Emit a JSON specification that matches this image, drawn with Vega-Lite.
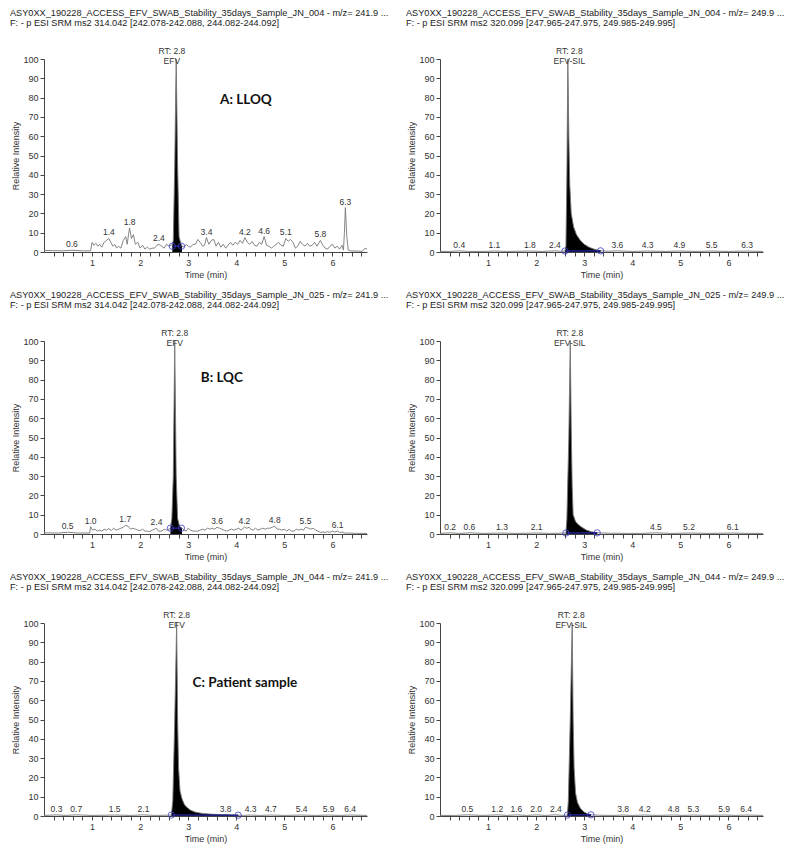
{
"$schema":"https://vega.github.io/schema/vega-lite/v6.json",
"background":"white",
"padding":{"left":9,"top":8,"right":2,"bottom":2},
"config":{
 "view":{"stroke":null},
 "axis":{"grid":false,"domainColor":"#444","tickColor":"#444","labelColor":"#333","titleColor":"#333","labelFont":"Liberation Sans","titleFont":"Liberation Sans","labelFontSize":9,"titleFontSize":9,"titleFontWeight":"normal","domainWidth":1,"tickWidth":1},
 "title":{"font":"Liberation Sans","fontSize":9.2,"fontWeight":"normal","anchor":"start","color":"#222","lineHeight":10,"offset":19,"dx":-2}
},
"datasets":{
"trace":[
{"p":"A1","t":0,"y":0.8},{"p":"A1","t":0.2,"y":0.7},{"p":"A1","t":0.4,"y":0.6},{"p":"A1","t":0.58,"y":0.9},{"p":"A1","t":0.8,"y":0.6},{"p":"A1","t":0.97,"y":0.6},{"p":"A1","t":1.0,"y":5},{"p":"A1","t":1.04,"y":3.5},{"p":"A1","t":1.08,"y":4.5},{"p":"A1","t":1.12,"y":3},{"p":"A1","t":1.16,"y":4},{"p":"A1","t":1.2,"y":2.5},{"p":"A1","t":1.25,"y":5},{"p":"A1","t":1.3,"y":6},{"p":"A1","t":1.35,"y":7},{"p":"A1","t":1.39,"y":5},{"p":"A1","t":1.43,"y":3},{"p":"A1","t":1.47,"y":4},{"p":"A1","t":1.51,"y":2},{"p":"A1","t":1.55,"y":3},{"p":"A1","t":1.6,"y":2},{"p":"A1","t":1.65,"y":6},{"p":"A1","t":1.7,"y":8},{"p":"A1","t":1.73,"y":4},{"p":"A1","t":1.78,"y":12.5},{"p":"A1","t":1.82,"y":7},{"p":"A1","t":1.86,"y":9},{"p":"A1","t":1.9,"y":4},{"p":"A1","t":1.95,"y":5},{"p":"A1","t":2.0,"y":2},{"p":"A1","t":2.05,"y":3.5},{"p":"A1","t":2.1,"y":1.5},{"p":"A1","t":2.15,"y":2.5},{"p":"A1","t":2.2,"y":1.5},{"p":"A1","t":2.25,"y":2},{"p":"A1","t":2.3,"y":2},{"p":"A1","t":2.35,"y":3.5},{"p":"A1","t":2.39,"y":4},{"p":"A1","t":2.45,"y":3},{"p":"A1","t":2.5,"y":2},{"p":"A1","t":2.55,"y":4},{"p":"A1","t":2.6,"y":3},{"p":"A1","t":2.65,"y":3.5},{"p":"A1","t":2.67,"y":4},{"p":"A1","t":2.69,"y":6},{"p":"A1","t":2.72,"y":45},{"p":"A1","t":2.75,"y":100},{"p":"A1","t":2.78,"y":45},{"p":"A1","t":2.81,"y":8},{"p":"A1","t":2.84,"y":5},{"p":"A1","t":2.87,"y":3},{"p":"A1","t":2.92,"y":2.5},{"p":"A1","t":2.96,"y":4},{"p":"A1","t":3.0,"y":3},{"p":"A1","t":3.05,"y":2.5},{"p":"A1","t":3.1,"y":4},{"p":"A1","t":3.15,"y":4},{"p":"A1","t":3.2,"y":6.5},{"p":"A1","t":3.25,"y":5},{"p":"A1","t":3.3,"y":3},{"p":"A1","t":3.34,"y":3.5},{"p":"A1","t":3.38,"y":7.5},{"p":"A1","t":3.43,"y":4},{"p":"A1","t":3.48,"y":6},{"p":"A1","t":3.53,"y":6.5},{"p":"A1","t":3.58,"y":3},{"p":"A1","t":3.63,"y":5},{"p":"A1","t":3.68,"y":2.5},{"p":"A1","t":3.73,"y":4},{"p":"A1","t":3.78,"y":2},{"p":"A1","t":3.83,"y":3.5},{"p":"A1","t":3.88,"y":5},{"p":"A1","t":3.93,"y":3.5},{"p":"A1","t":3.98,"y":5},{"p":"A1","t":4.03,"y":4},{"p":"A1","t":4.08,"y":6},{"p":"A1","t":4.13,"y":4.5},{"p":"A1","t":4.18,"y":7.5},{"p":"A1","t":4.23,"y":5},{"p":"A1","t":4.28,"y":4},{"p":"A1","t":4.33,"y":5.5},{"p":"A1","t":4.38,"y":3.5},{"p":"A1","t":4.43,"y":3},{"p":"A1","t":4.48,"y":5},{"p":"A1","t":4.53,"y":4},{"p":"A1","t":4.58,"y":8},{"p":"A1","t":4.63,"y":3.5},{"p":"A1","t":4.68,"y":3},{"p":"A1","t":4.73,"y":2},{"p":"A1","t":4.78,"y":3},{"p":"A1","t":4.83,"y":4},{"p":"A1","t":4.88,"y":5},{"p":"A1","t":4.93,"y":3.5},{"p":"A1","t":4.98,"y":3},{"p":"A1","t":5.03,"y":7},{"p":"A1","t":5.08,"y":5.5},{"p":"A1","t":5.13,"y":6.5},{"p":"A1","t":5.18,"y":5},{"p":"A1","t":5.23,"y":2},{"p":"A1","t":5.28,"y":3},{"p":"A1","t":5.33,"y":5.5},{"p":"A1","t":5.38,"y":4},{"p":"A1","t":5.43,"y":3},{"p":"A1","t":5.48,"y":4.5},{"p":"A1","t":5.53,"y":3},{"p":"A1","t":5.58,"y":3.5},{"p":"A1","t":5.63,"y":5},{"p":"A1","t":5.68,"y":3},{"p":"A1","t":5.75,"y":6},{"p":"A1","t":5.8,"y":3.5},{"p":"A1","t":5.85,"y":2},{"p":"A1","t":5.9,"y":1.5},{"p":"A1","t":5.95,"y":3},{"p":"A1","t":6.0,"y":4},{"p":"A1","t":6.05,"y":2},{"p":"A1","t":6.1,"y":3},{"p":"A1","t":6.15,"y":1.5},{"p":"A1","t":6.2,"y":3.5},{"p":"A1","t":6.23,"y":1},{"p":"A1","t":6.25,"y":10},{"p":"A1","t":6.27,"y":23},{"p":"A1","t":6.3,"y":8},{"p":"A1","t":6.33,"y":1},{"p":"A1","t":6.4,"y":0.5},{"p":"A1","t":6.55,"y":0.5},{"p":"A1","t":6.62,"y":0.3},{"p":"A1","t":6.68,"y":2},{"p":"A1","t":6.72,"y":1.5},
{"p":"A2","t":0,"y":0.3},{"p":"A2","t":0.2,"y":0.3},{"p":"A2","t":0.4,"y":0.6},{"p":"A2","t":0.6,"y":0.3},{"p":"A2","t":0.9,"y":0.3},{"p":"A2","t":1.13,"y":0.5},{"p":"A2","t":1.4,"y":0.3},{"p":"A2","t":1.87,"y":0.5},{"p":"A2","t":2.1,"y":0.3},{"p":"A2","t":2.39,"y":0.6},{"p":"A2","t":2.5,"y":0.4},{"p":"A2","t":2.6,"y":0.5},{"p":"A2","t":2.62,"y":3},{"p":"A2","t":2.64,"y":40},{"p":"A2","t":2.66,"y":100},{"p":"A2","t":2.68,"y":60},{"p":"A2","t":2.7,"y":35},{"p":"A2","t":2.73,"y":20},{"p":"A2","t":2.78,"y":13},{"p":"A2","t":2.84,"y":9},{"p":"A2","t":2.92,"y":6},{"p":"A2","t":3.0,"y":4},{"p":"A2","t":3.1,"y":2.5},{"p":"A2","t":3.2,"y":1.5},{"p":"A2","t":3.34,"y":0.6},{"p":"A2","t":3.5,"y":0.4},{"p":"A2","t":3.69,"y":0.6},{"p":"A2","t":4.0,"y":0.3},{"p":"A2","t":4.32,"y":0.5},{"p":"A2","t":4.7,"y":0.3},{"p":"A2","t":4.98,"y":0.5},{"p":"A2","t":5.35,"y":0.3},{"p":"A2","t":5.65,"y":0.5},{"p":"A2","t":6.0,"y":0.3},{"p":"A2","t":6.39,"y":0.5},{"p":"A2","t":6.72,"y":0.3},
{"p":"B1","t":0,"y":0.6},{"p":"B1","t":0.3,"y":0.5},{"p":"B1","t":0.49,"y":0.9},{"p":"B1","t":0.7,"y":0.5},{"p":"B1","t":0.95,"y":0.5},{"p":"B1","t":0.97,"y":3.8},{"p":"B1","t":1.01,"y":2},{"p":"B1","t":1.06,"y":2.5},{"p":"B1","t":1.11,"y":1.5},{"p":"B1","t":1.16,"y":2},{"p":"B1","t":1.2,"y":1.5},{"p":"B1","t":1.25,"y":2.5},{"p":"B1","t":1.3,"y":2},{"p":"B1","t":1.35,"y":2.8},{"p":"B1","t":1.4,"y":1.8},{"p":"B1","t":1.45,"y":3},{"p":"B1","t":1.5,"y":2},{"p":"B1","t":1.55,"y":2.5},{"p":"B1","t":1.6,"y":3},{"p":"B1","t":1.65,"y":3.5},{"p":"B1","t":1.69,"y":4.5},{"p":"B1","t":1.75,"y":4},{"p":"B1","t":1.8,"y":2.5},{"p":"B1","t":1.85,"y":3},{"p":"B1","t":1.9,"y":2.5},{"p":"B1","t":1.95,"y":2},{"p":"B1","t":2.0,"y":1.8},{"p":"B1","t":2.05,"y":2.5},{"p":"B1","t":2.1,"y":1.5},{"p":"B1","t":2.15,"y":1.5},{"p":"B1","t":2.2,"y":1.2},{"p":"B1","t":2.25,"y":2},{"p":"B1","t":2.3,"y":2.5},{"p":"B1","t":2.34,"y":3},{"p":"B1","t":2.38,"y":1.5},{"p":"B1","t":2.45,"y":1.5},{"p":"B1","t":2.5,"y":2.5},{"p":"B1","t":2.55,"y":2},{"p":"B1","t":2.6,"y":2.5},{"p":"B1","t":2.63,"y":3},{"p":"B1","t":2.66,"y":8},{"p":"B1","t":2.69,"y":30},{"p":"B1","t":2.72,"y":100},{"p":"B1","t":2.75,"y":30},{"p":"B1","t":2.78,"y":8},{"p":"B1","t":2.82,"y":4},{"p":"B1","t":2.87,"y":3},{"p":"B1","t":2.92,"y":2},{"p":"B1","t":2.96,"y":1.5},{"p":"B1","t":3.0,"y":3},{"p":"B1","t":3.05,"y":2},{"p":"B1","t":3.1,"y":1.5},{"p":"B1","t":3.15,"y":1.5},{"p":"B1","t":3.2,"y":1.5},{"p":"B1","t":3.25,"y":2},{"p":"B1","t":3.3,"y":2.5},{"p":"B1","t":3.35,"y":2},{"p":"B1","t":3.4,"y":3},{"p":"B1","t":3.45,"y":2.5},{"p":"B1","t":3.5,"y":3},{"p":"B1","t":3.55,"y":2.5},{"p":"B1","t":3.6,"y":3.5},{"p":"B1","t":3.65,"y":3},{"p":"B1","t":3.7,"y":2.5},{"p":"B1","t":3.75,"y":2},{"p":"B1","t":3.8,"y":1.5},{"p":"B1","t":3.85,"y":2},{"p":"B1","t":3.9,"y":2.5},{"p":"B1","t":3.95,"y":2},{"p":"B1","t":4.0,"y":2.5},{"p":"B1","t":4.05,"y":3},{"p":"B1","t":4.1,"y":2},{"p":"B1","t":4.17,"y":3.5},{"p":"B1","t":4.22,"y":3},{"p":"B1","t":4.27,"y":3.5},{"p":"B1","t":4.3,"y":2.5},{"p":"B1","t":4.35,"y":2},{"p":"B1","t":4.4,"y":3},{"p":"B1","t":4.45,"y":2},{"p":"B1","t":4.5,"y":2.5},{"p":"B1","t":4.55,"y":3},{"p":"B1","t":4.6,"y":2.5},{"p":"B1","t":4.65,"y":3},{"p":"B1","t":4.7,"y":3},{"p":"B1","t":4.75,"y":3.5},{"p":"B1","t":4.8,"y":4},{"p":"B1","t":4.85,"y":2.5},{"p":"B1","t":4.9,"y":2.5},{"p":"B1","t":4.95,"y":2},{"p":"B1","t":5.0,"y":2.5},{"p":"B1","t":5.05,"y":1.5},{"p":"B1","t":5.1,"y":2.5},{"p":"B1","t":5.15,"y":1.5},{"p":"B1","t":5.2,"y":1.5},{"p":"B1","t":5.25,"y":2.5},{"p":"B1","t":5.3,"y":2},{"p":"B1","t":5.35,"y":2.5},{"p":"B1","t":5.4,"y":2},{"p":"B1","t":5.44,"y":3.5},{"p":"B1","t":5.5,"y":3},{"p":"B1","t":5.55,"y":2.5},{"p":"B1","t":5.6,"y":3},{"p":"B1","t":5.65,"y":2},{"p":"B1","t":5.7,"y":1.5},{"p":"B1","t":5.75,"y":0.8},{"p":"B1","t":5.8,"y":1},{"p":"B1","t":5.85,"y":0.8},{"p":"B1","t":5.9,"y":1.2},{"p":"B1","t":5.95,"y":0.8},{"p":"B1","t":6.0,"y":1.5},{"p":"B1","t":6.05,"y":1},{"p":"B1","t":6.11,"y":1.5},{"p":"B1","t":6.15,"y":0.8},{"p":"B1","t":6.2,"y":1},{"p":"B1","t":6.25,"y":0.5},{"p":"B1","t":6.35,"y":0.5},{"p":"B1","t":6.5,"y":0.3},{"p":"B1","t":6.72,"y":0.3},
{"p":"B2","t":0,"y":0.3},{"p":"B2","t":0.21,"y":0.6},{"p":"B2","t":0.4,"y":0.3},{"p":"B2","t":0.61,"y":0.6},{"p":"B2","t":0.9,"y":0.3},{"p":"B2","t":1.29,"y":0.5},{"p":"B2","t":1.6,"y":0.3},{"p":"B2","t":2.01,"y":0.5},{"p":"B2","t":2.3,"y":0.3},{"p":"B2","t":2.5,"y":0.4},{"p":"B2","t":2.62,"y":0.5},{"p":"B2","t":2.64,"y":8},{"p":"B2","t":2.68,"y":50},{"p":"B2","t":2.71,"y":100},{"p":"B2","t":2.73,"y":55},{"p":"B2","t":2.75,"y":25},{"p":"B2","t":2.77,"y":10},{"p":"B2","t":2.82,"y":6.5},{"p":"B2","t":2.87,"y":5},{"p":"B2","t":2.95,"y":3.5},{"p":"B2","t":3.05,"y":2},{"p":"B2","t":3.15,"y":1.2},{"p":"B2","t":3.27,"y":0.6},{"p":"B2","t":3.5,"y":0.4},{"p":"B2","t":3.9,"y":0.3},{"p":"B2","t":4.2,"y":0.3},{"p":"B2","t":4.49,"y":0.6},{"p":"B2","t":4.8,"y":0.3},{"p":"B2","t":5.18,"y":0.5},{"p":"B2","t":5.6,"y":0.3},{"p":"B2","t":6.09,"y":0.5},{"p":"B2","t":6.4,"y":0.3},{"p":"B2","t":6.72,"y":0.3},
{"p":"C1","t":0,"y":0.3},{"p":"C1","t":0.26,"y":0.6},{"p":"C1","t":0.45,"y":0.3},{"p":"C1","t":0.67,"y":0.6},{"p":"C1","t":1.0,"y":0.3},{"p":"C1","t":1.47,"y":0.5},{"p":"C1","t":1.8,"y":0.3},{"p":"C1","t":2.07,"y":0.6},{"p":"C1","t":2.3,"y":0.3},{"p":"C1","t":2.55,"y":0.4},{"p":"C1","t":2.65,"y":0.5},{"p":"C1","t":2.68,"y":8},{"p":"C1","t":2.72,"y":50},{"p":"C1","t":2.76,"y":100},{"p":"C1","t":2.78,"y":50},{"p":"C1","t":2.8,"y":25},{"p":"C1","t":2.83,"y":13},{"p":"C1","t":2.87,"y":9},{"p":"C1","t":2.92,"y":6},{"p":"C1","t":2.97,"y":4.5},{"p":"C1","t":3.05,"y":3},{"p":"C1","t":3.15,"y":2},{"p":"C1","t":3.3,"y":1.3},{"p":"C1","t":3.5,"y":0.9},{"p":"C1","t":3.7,"y":0.7},{"p":"C1","t":3.78,"y":0.7},{"p":"C1","t":3.9,"y":0.5},{"p":"C1","t":4.04,"y":0.4},{"p":"C1","t":4.15,"y":0.3},{"p":"C1","t":4.3,"y":0.5},{"p":"C1","t":4.5,"y":0.3},{"p":"C1","t":4.72,"y":0.5},{"p":"C1","t":5.0,"y":0.3},{"p":"C1","t":5.36,"y":0.5},{"p":"C1","t":5.65,"y":0.3},{"p":"C1","t":5.92,"y":0.5},{"p":"C1","t":6.15,"y":0.3},{"p":"C1","t":6.37,"y":0.5},{"p":"C1","t":6.72,"y":0.3},
{"p":"C2","t":0,"y":0.3},{"p":"C2","t":0.3,"y":0.3},{"p":"C2","t":0.57,"y":0.6},{"p":"C2","t":0.9,"y":0.3},{"p":"C2","t":1.19,"y":0.6},{"p":"C2","t":1.4,"y":0.3},{"p":"C2","t":1.59,"y":0.6},{"p":"C2","t":1.8,"y":0.3},{"p":"C2","t":2.0,"y":0.6},{"p":"C2","t":2.2,"y":0.3},{"p":"C2","t":2.41,"y":0.6},{"p":"C2","t":2.55,"y":0.3},{"p":"C2","t":2.65,"y":0.5},{"p":"C2","t":2.67,"y":8},{"p":"C2","t":2.71,"y":50},{"p":"C2","t":2.75,"y":100},{"p":"C2","t":2.77,"y":50},{"p":"C2","t":2.79,"y":25},{"p":"C2","t":2.82,"y":12},{"p":"C2","t":2.86,"y":7},{"p":"C2","t":2.92,"y":4},{"p":"C2","t":3.0,"y":2},{"p":"C2","t":3.07,"y":1.2},{"p":"C2","t":3.14,"y":0.6},{"p":"C2","t":3.3,"y":0.4},{"p":"C2","t":3.6,"y":0.3},{"p":"C2","t":3.81,"y":0.5},{"p":"C2","t":4.0,"y":0.3},{"p":"C2","t":4.26,"y":0.5},{"p":"C2","t":4.5,"y":0.3},{"p":"C2","t":4.86,"y":0.5},{"p":"C2","t":5.05,"y":0.3},{"p":"C2","t":5.27,"y":0.5},{"p":"C2","t":5.6,"y":0.3},{"p":"C2","t":5.91,"y":0.5},{"p":"C2","t":6.15,"y":0.3},{"p":"C2","t":6.37,"y":0.5},{"p":"C2","t":6.72,"y":0.3}
],
"base":[
{"p":"A1","t":2.67,"y":3},{"p":"A1","t":2.86,"y":3},
{"p":"A2","t":2.6,"y":0.5},{"p":"A2","t":3.34,"y":0.6},
{"p":"B1","t":2.63,"y":3},{"p":"B1","t":2.86,"y":3},
{"p":"B2","t":2.62,"y":0.5},{"p":"B2","t":3.27,"y":0.6},
{"p":"C1","t":2.65,"y":0.5},{"p":"C1","t":4.04,"y":0.4},
{"p":"C2","t":2.65,"y":0.5},{"p":"C2","t":3.14,"y":0.6}
],
"peaks":[
{"p":"A1","t":0.58,"y":0.9,"txt":"0.6"},{"p":"A1","t":1.35,"y":7,"txt":"1.4"},{"p":"A1","t":1.78,"y":12.5,"txt":"1.8"},{"p":"A1","t":2.39,"y":4,"txt":"2.4"},{"p":"A1","t":3.38,"y":7.5,"txt":"3.4"},{"p":"A1","t":4.18,"y":7.5,"txt":"4.2"},{"p":"A1","t":4.58,"y":8,"txt":"4.6"},{"p":"A1","t":5.03,"y":7,"txt":"5.1"},{"p":"A1","t":5.75,"y":6,"txt":"5.8"},{"p":"A1","t":6.27,"y":23,"txt":"6.3"},
{"p":"A2","t":0.4,"y":0.6,"txt":"0.4"},{"p":"A2","t":1.13,"y":0.5,"txt":"1.1"},{"p":"A2","t":1.87,"y":0.5,"txt":"1.8"},{"p":"A2","t":2.39,"y":0.6,"txt":"2.4"},{"p":"A2","t":3.69,"y":0.6,"txt":"3.6"},{"p":"A2","t":4.32,"y":0.5,"txt":"4.3"},{"p":"A2","t":4.98,"y":0.5,"txt":"4.9"},{"p":"A2","t":5.65,"y":0.5,"txt":"5.5"},{"p":"A2","t":6.39,"y":0.5,"txt":"6.3"},
{"p":"B1","t":0.49,"y":0.9,"txt":"0.5"},{"p":"B1","t":0.97,"y":3.8,"txt":"1.0"},{"p":"B1","t":1.69,"y":4.5,"txt":"1.7"},{"p":"B1","t":2.34,"y":3,"txt":"2.4"},{"p":"B1","t":3.6,"y":3.5,"txt":"3.6"},{"p":"B1","t":4.17,"y":3.5,"txt":"4.2"},{"p":"B1","t":4.8,"y":4,"txt":"4.8"},{"p":"B1","t":5.44,"y":3.5,"txt":"5.5"},{"p":"B1","t":6.11,"y":1.5,"txt":"6.1"},
{"p":"B2","t":0.21,"y":0.6,"txt":"0.2"},{"p":"B2","t":0.61,"y":0.6,"txt":"0.6"},{"p":"B2","t":1.29,"y":0.5,"txt":"1.3"},{"p":"B2","t":2.01,"y":0.5,"txt":"2.1"},{"p":"B2","t":4.49,"y":0.6,"txt":"4.5"},{"p":"B2","t":5.18,"y":0.5,"txt":"5.2"},{"p":"B2","t":6.09,"y":0.5,"txt":"6.1"},
{"p":"C1","t":0.26,"y":0.6,"txt":"0.3"},{"p":"C1","t":0.67,"y":0.6,"txt":"0.7"},{"p":"C1","t":1.47,"y":0.5,"txt":"1.5"},{"p":"C1","t":2.07,"y":0.6,"txt":"2.1"},{"p":"C1","t":3.78,"y":0.7,"txt":"3.8"},{"p":"C1","t":4.3,"y":0.5,"txt":"4.3"},{"p":"C1","t":4.72,"y":0.5,"txt":"4.7"},{"p":"C1","t":5.36,"y":0.5,"txt":"5.4"},{"p":"C1","t":5.92,"y":0.5,"txt":"5.9"},{"p":"C1","t":6.37,"y":0.5,"txt":"6.4"},
{"p":"C2","t":0.57,"y":0.6,"txt":"0.5"},{"p":"C2","t":1.19,"y":0.6,"txt":"1.2"},{"p":"C2","t":1.59,"y":0.6,"txt":"1.6"},{"p":"C2","t":2.0,"y":0.6,"txt":"2.0"},{"p":"C2","t":2.41,"y":0.6,"txt":"2.4"},{"p":"C2","t":3.81,"y":0.5,"txt":"3.8"},{"p":"C2","t":4.26,"y":0.5,"txt":"4.2"},{"p":"C2","t":4.86,"y":0.5,"txt":"4.8"},{"p":"C2","t":5.27,"y":0.5,"txt":"5.3"},{"p":"C2","t":5.91,"y":0.5,"txt":"5.9"},{"p":"C2","t":6.37,"y":0.5,"txt":"6.4"}
],
"rt":[
{"p":"A1","t":2.66,"y":100,"txt":"RT: 2.8\nEFV"},
{"p":"A2","t":2.69,"y":100,"txt":"RT: 2.8\nEFV-SIL"},
{"p":"B1","t":2.72,"y":100,"txt":"RT: 2.8\nEFV"},
{"p":"B2","t":2.7,"y":100,"txt":"RT: 2.8\nEFV-SIL"},
{"p":"C1","t":2.76,"y":100,"txt":"RT: 2.8\nEFV"},
{"p":"C2","t":2.73,"y":100,"txt":"RT: 2.8\nEFV-SIL"}
],
"tags":[
{"p":"A1","t":4.2,"y":79,"txt":"A: LLOQ"},
{"p":"B1","t":3.7,"y":81,"txt":"B: LQC"},
{"p":"C1","t":4.18,"y":69,"txt":"C: Patient sample"}
]
},
"columns":2,
"spacing":{"row":89,"column":73},
"bounds":"flush",
"concat":[
{"width":323,"height":193,
 "title":{"text":["ASY0XX_190228_ACCESS_EFV_SWAB_Stability_35days_Sample_JN_004 - m/z= 241.9 ...","F: - p ESI SRM ms2 314.042 [242.078-242.088, 244.082-244.092]"]},
 "encoding":{"x":{"field":"t","type":"quantitative","scale":{"domain":[0,6.72],"nice":false,"zero":false},"axis":{"values":[0.2,0.4,0.6,0.8,1,1.2,1.4,1.6,1.8,2,2.2,2.4,2.6,2.8,3,3.2,3.4,3.6,3.8,4,4.2,4.4,4.6,4.8,5,5.2,5.4,5.6,5.8,6,6.2,6.4,6.6],"labelExpr":"datum.value % 1 == 0 ? format(datum.value, 'd') : ''","title":"Time (min)","tickSize":4,"labelPadding":2,"titlePadding":3,"labelOverlap":false,"labelFlush":false}},
  "y":{"field":"y","type":"quantitative","scale":{"domain":[0,100],"nice":false},"axis":{"values":[0,10,20,30,40,50,60,70,80,90,100],"title":"Relative Intensity","tickSize":4,"labelPadding":2,"titlePadding":2,"labelOverlap":false,"labelFlush":false}}},
 "layer":[
  {"data":{"name":"trace"},"transform":[{"filter":"datum.p=='A1' && datum.t>=2.67 && datum.t<=2.87"}],"mark":{"type":"area","color":"#000"}},
  {"data":{"name":"trace"},"transform":[{"filter":"datum.p=='A1'"}],"mark":{"type":"line","color":"#777777","strokeWidth":0.9}},
  {"data":{"name":"base"},"transform":[{"filter":"datum.p=='A1'"}],"mark":{"type":"line","color":"#20208a","strokeWidth":1.5}},
  {"data":{"name":"base"},"transform":[{"filter":"datum.p=='A1'"}],"mark":{"type":"point","shape":"circle","filled":false,"size":40,"color":"#3c3cc8","strokeWidth":0.8,"opacity":1}},
  {"data":{"name":"peaks"},"transform":[{"filter":"datum.p=='A1'"}],"mark":{"type":"text","baseline":"bottom","dy":-1,"fontSize":8.5,"color":"#333","font":"Liberation Sans"},"encoding":{"text":{"field":"txt"}}},
  {"data":{"name":"rt"},"transform":[{"filter":"datum.p=='A1'"}],"mark":{"type":"text","baseline":"bottom","dy":-3,"fontSize":8.5,"lineBreak":"\n","lineHeight":9.5,"color":"#333","font":"Liberation Sans"},"encoding":{"text":{"field":"txt"}}},
  {"data":{"name":"tags"},"transform":[{"filter":"datum.p=='A1'"}],"mark":{"type":"text","font":"Lato","fontWeight":"bold","fontSize":13.5,"color":"#111"},"encoding":{"text":{"field":"txt"}}}
 ]},
{"width":323,"height":193,
 "title":{"text":["ASY0XX_190228_ACCESS_EFV_SWAB_Stability_35days_Sample_JN_004 - m/z= 249.9 ...","F: - p ESI SRM ms2 320.099 [247.965-247.975, 249.985-249.995]"]},
 "encoding":{"x":{"field":"t","type":"quantitative","scale":{"domain":[0,6.72],"nice":false,"zero":false},"axis":{"values":[0.2,0.4,0.6,0.8,1,1.2,1.4,1.6,1.8,2,2.2,2.4,2.6,2.8,3,3.2,3.4,3.6,3.8,4,4.2,4.4,4.6,4.8,5,5.2,5.4,5.6,5.8,6,6.2,6.4,6.6],"labelExpr":"datum.value % 1 == 0 ? format(datum.value, 'd') : ''","title":"Time (min)","tickSize":4,"labelPadding":2,"titlePadding":3,"labelOverlap":false,"labelFlush":false}},
  "y":{"field":"y","type":"quantitative","scale":{"domain":[0,100],"nice":false},"axis":{"values":[0,10,20,30,40,50,60,70,80,90,100],"title":"Relative Intensity","tickSize":4,"labelPadding":2,"titlePadding":2,"labelOverlap":false,"labelFlush":false}}},
 "layer":[
  {"data":{"name":"trace"},"transform":[{"filter":"datum.p=='A2' && datum.t>=2.6 && datum.t<=3.34"}],"mark":{"type":"area","color":"#000"}},
  {"data":{"name":"trace"},"transform":[{"filter":"datum.p=='A2'"}],"mark":{"type":"line","color":"#777777","strokeWidth":0.9}},
  {"data":{"name":"base"},"transform":[{"filter":"datum.p=='A2'"}],"mark":{"type":"line","color":"#20208a","strokeWidth":1.5}},
  {"data":{"name":"base"},"transform":[{"filter":"datum.p=='A2'"}],"mark":{"type":"point","shape":"circle","filled":false,"size":40,"color":"#3c3cc8","strokeWidth":0.8,"opacity":1}},
  {"data":{"name":"peaks"},"transform":[{"filter":"datum.p=='A2'"}],"mark":{"type":"text","baseline":"bottom","dy":-1,"fontSize":8.5,"color":"#333","font":"Liberation Sans"},"encoding":{"text":{"field":"txt"}}},
  {"data":{"name":"rt"},"transform":[{"filter":"datum.p=='A2'"}],"mark":{"type":"text","baseline":"bottom","dy":-3,"fontSize":8.5,"lineBreak":"\n","lineHeight":9.5,"color":"#333","font":"Liberation Sans"},"encoding":{"text":{"field":"txt"}}}
 ]},
{"width":323,"height":193,
 "title":{"text":["ASY0XX_190228_ACCESS_EFV_SWAB_Stability_35days_Sample_JN_025 - m/z= 241.9 ...","F: - p ESI SRM ms2 314.042 [242.078-242.088, 244.082-244.092]"]},
 "encoding":{"x":{"field":"t","type":"quantitative","scale":{"domain":[0,6.72],"nice":false,"zero":false},"axis":{"values":[0.2,0.4,0.6,0.8,1,1.2,1.4,1.6,1.8,2,2.2,2.4,2.6,2.8,3,3.2,3.4,3.6,3.8,4,4.2,4.4,4.6,4.8,5,5.2,5.4,5.6,5.8,6,6.2,6.4,6.6],"labelExpr":"datum.value % 1 == 0 ? format(datum.value, 'd') : ''","title":"Time (min)","tickSize":4,"labelPadding":2,"titlePadding":3,"labelOverlap":false,"labelFlush":false}},
  "y":{"field":"y","type":"quantitative","scale":{"domain":[0,100],"nice":false},"axis":{"values":[0,10,20,30,40,50,60,70,80,90,100],"title":"Relative Intensity","tickSize":4,"labelPadding":2,"titlePadding":2,"labelOverlap":false,"labelFlush":false}}},
 "layer":[
  {"data":{"name":"trace"},"transform":[{"filter":"datum.p=='B1' && datum.t>=2.63 && datum.t<=2.87"}],"mark":{"type":"area","color":"#000"}},
  {"data":{"name":"trace"},"transform":[{"filter":"datum.p=='B1'"}],"mark":{"type":"line","color":"#777777","strokeWidth":0.9}},
  {"data":{"name":"base"},"transform":[{"filter":"datum.p=='B1'"}],"mark":{"type":"line","color":"#20208a","strokeWidth":1.5}},
  {"data":{"name":"base"},"transform":[{"filter":"datum.p=='B1'"}],"mark":{"type":"point","shape":"circle","filled":false,"size":40,"color":"#3c3cc8","strokeWidth":0.8,"opacity":1}},
  {"data":{"name":"peaks"},"transform":[{"filter":"datum.p=='B1'"}],"mark":{"type":"text","baseline":"bottom","dy":-1,"fontSize":8.5,"color":"#333","font":"Liberation Sans"},"encoding":{"text":{"field":"txt"}}},
  {"data":{"name":"rt"},"transform":[{"filter":"datum.p=='B1'"}],"mark":{"type":"text","baseline":"bottom","dy":-3,"fontSize":8.5,"lineBreak":"\n","lineHeight":9.5,"color":"#333","font":"Liberation Sans"},"encoding":{"text":{"field":"txt"}}},
  {"data":{"name":"tags"},"transform":[{"filter":"datum.p=='B1'"}],"mark":{"type":"text","font":"Lato","fontWeight":"bold","fontSize":13.5,"color":"#111"},"encoding":{"text":{"field":"txt"}}}
 ]},
{"width":323,"height":193,
 "title":{"text":["ASY0XX_190228_ACCESS_EFV_SWAB_Stability_35days_Sample_JN_025 - m/z= 249.9 ...","F: - p ESI SRM ms2 320.099 [247.965-247.975, 249.985-249.995]"]},
 "encoding":{"x":{"field":"t","type":"quantitative","scale":{"domain":[0,6.72],"nice":false,"zero":false},"axis":{"values":[0.2,0.4,0.6,0.8,1,1.2,1.4,1.6,1.8,2,2.2,2.4,2.6,2.8,3,3.2,3.4,3.6,3.8,4,4.2,4.4,4.6,4.8,5,5.2,5.4,5.6,5.8,6,6.2,6.4,6.6],"labelExpr":"datum.value % 1 == 0 ? format(datum.value, 'd') : ''","title":"Time (min)","tickSize":4,"labelPadding":2,"titlePadding":3,"labelOverlap":false,"labelFlush":false}},
  "y":{"field":"y","type":"quantitative","scale":{"domain":[0,100],"nice":false},"axis":{"values":[0,10,20,30,40,50,60,70,80,90,100],"title":"Relative Intensity","tickSize":4,"labelPadding":2,"titlePadding":2,"labelOverlap":false,"labelFlush":false}}},
 "layer":[
  {"data":{"name":"trace"},"transform":[{"filter":"datum.p=='B2' && datum.t>=2.62 && datum.t<=3.27"}],"mark":{"type":"area","color":"#000"}},
  {"data":{"name":"trace"},"transform":[{"filter":"datum.p=='B2'"}],"mark":{"type":"line","color":"#777777","strokeWidth":0.9}},
  {"data":{"name":"base"},"transform":[{"filter":"datum.p=='B2'"}],"mark":{"type":"line","color":"#20208a","strokeWidth":1.5}},
  {"data":{"name":"base"},"transform":[{"filter":"datum.p=='B2'"}],"mark":{"type":"point","shape":"circle","filled":false,"size":40,"color":"#3c3cc8","strokeWidth":0.8,"opacity":1}},
  {"data":{"name":"peaks"},"transform":[{"filter":"datum.p=='B2'"}],"mark":{"type":"text","baseline":"bottom","dy":-1,"fontSize":8.5,"color":"#333","font":"Liberation Sans"},"encoding":{"text":{"field":"txt"}}},
  {"data":{"name":"rt"},"transform":[{"filter":"datum.p=='B2'"}],"mark":{"type":"text","baseline":"bottom","dy":-3,"fontSize":8.5,"lineBreak":"\n","lineHeight":9.5,"color":"#333","font":"Liberation Sans"},"encoding":{"text":{"field":"txt"}}}
 ]},
{"width":323,"height":193,
 "title":{"text":["ASY0XX_190228_ACCESS_EFV_SWAB_Stability_35days_Sample_JN_044 - m/z= 241.9 ...","F: - p ESI SRM ms2 314.042 [242.078-242.088, 244.082-244.092]"]},
 "encoding":{"x":{"field":"t","type":"quantitative","scale":{"domain":[0,6.72],"nice":false,"zero":false},"axis":{"values":[0.2,0.4,0.6,0.8,1,1.2,1.4,1.6,1.8,2,2.2,2.4,2.6,2.8,3,3.2,3.4,3.6,3.8,4,4.2,4.4,4.6,4.8,5,5.2,5.4,5.6,5.8,6,6.2,6.4,6.6],"labelExpr":"datum.value % 1 == 0 ? format(datum.value, 'd') : ''","title":"Time (min)","tickSize":4,"labelPadding":2,"titlePadding":3,"labelOverlap":false,"labelFlush":false}},
  "y":{"field":"y","type":"quantitative","scale":{"domain":[0,100],"nice":false},"axis":{"values":[0,10,20,30,40,50,60,70,80,90,100],"title":"Relative Intensity","tickSize":4,"labelPadding":2,"titlePadding":2,"labelOverlap":false,"labelFlush":false}}},
 "layer":[
  {"data":{"name":"trace"},"transform":[{"filter":"datum.p=='C1' && datum.t>=2.65 && datum.t<=4.04"}],"mark":{"type":"area","color":"#000"}},
  {"data":{"name":"trace"},"transform":[{"filter":"datum.p=='C1'"}],"mark":{"type":"line","color":"#777777","strokeWidth":0.9}},
  {"data":{"name":"base"},"transform":[{"filter":"datum.p=='C1'"}],"mark":{"type":"line","color":"#20208a","strokeWidth":1.5}},
  {"data":{"name":"base"},"transform":[{"filter":"datum.p=='C1'"}],"mark":{"type":"point","shape":"circle","filled":false,"size":40,"color":"#3c3cc8","strokeWidth":0.8,"opacity":1}},
  {"data":{"name":"peaks"},"transform":[{"filter":"datum.p=='C1'"}],"mark":{"type":"text","baseline":"bottom","dy":-1,"fontSize":8.5,"color":"#333","font":"Liberation Sans"},"encoding":{"text":{"field":"txt"}}},
  {"data":{"name":"rt"},"transform":[{"filter":"datum.p=='C1'"}],"mark":{"type":"text","baseline":"bottom","dy":-3,"fontSize":8.5,"lineBreak":"\n","lineHeight":9.5,"color":"#333","font":"Liberation Sans"},"encoding":{"text":{"field":"txt"}}},
  {"data":{"name":"tags"},"transform":[{"filter":"datum.p=='C1'"}],"mark":{"type":"text","font":"Lato","fontWeight":"bold","fontSize":13.5,"color":"#111"},"encoding":{"text":{"field":"txt"}}}
 ]},
{"width":323,"height":193,
 "title":{"text":["ASY0XX_190228_ACCESS_EFV_SWAB_Stability_35days_Sample_JN_044 - m/z= 249.9 ...","F: - p ESI SRM ms2 320.099 [247.965-247.975, 249.985-249.995]"]},
 "encoding":{"x":{"field":"t","type":"quantitative","scale":{"domain":[0,6.72],"nice":false,"zero":false},"axis":{"values":[0.2,0.4,0.6,0.8,1,1.2,1.4,1.6,1.8,2,2.2,2.4,2.6,2.8,3,3.2,3.4,3.6,3.8,4,4.2,4.4,4.6,4.8,5,5.2,5.4,5.6,5.8,6,6.2,6.4,6.6],"labelExpr":"datum.value % 1 == 0 ? format(datum.value, 'd') : ''","title":"Time (min)","tickSize":4,"labelPadding":2,"titlePadding":3,"labelOverlap":false,"labelFlush":false}},
  "y":{"field":"y","type":"quantitative","scale":{"domain":[0,100],"nice":false},"axis":{"values":[0,10,20,30,40,50,60,70,80,90,100],"title":"Relative Intensity","tickSize":4,"labelPadding":2,"titlePadding":2,"labelOverlap":false,"labelFlush":false}}},
 "layer":[
  {"data":{"name":"trace"},"transform":[{"filter":"datum.p=='C2' && datum.t>=2.65 && datum.t<=3.14"}],"mark":{"type":"area","color":"#000"}},
  {"data":{"name":"trace"},"transform":[{"filter":"datum.p=='C2'"}],"mark":{"type":"line","color":"#777777","strokeWidth":0.9}},
  {"data":{"name":"base"},"transform":[{"filter":"datum.p=='C2'"}],"mark":{"type":"line","color":"#20208a","strokeWidth":1.5}},
  {"data":{"name":"base"},"transform":[{"filter":"datum.p=='C2'"}],"mark":{"type":"point","shape":"circle","filled":false,"size":40,"color":"#3c3cc8","strokeWidth":0.8,"opacity":1}},
  {"data":{"name":"peaks"},"transform":[{"filter":"datum.p=='C2'"}],"mark":{"type":"text","baseline":"bottom","dy":-1,"fontSize":8.5,"color":"#333","font":"Liberation Sans"},"encoding":{"text":{"field":"txt"}}},
  {"data":{"name":"rt"},"transform":[{"filter":"datum.p=='C2'"}],"mark":{"type":"text","baseline":"bottom","dy":-3,"fontSize":8.5,"lineBreak":"\n","lineHeight":9.5,"color":"#333","font":"Liberation Sans"},"encoding":{"text":{"field":"txt"}}}
 ]}
]
}
